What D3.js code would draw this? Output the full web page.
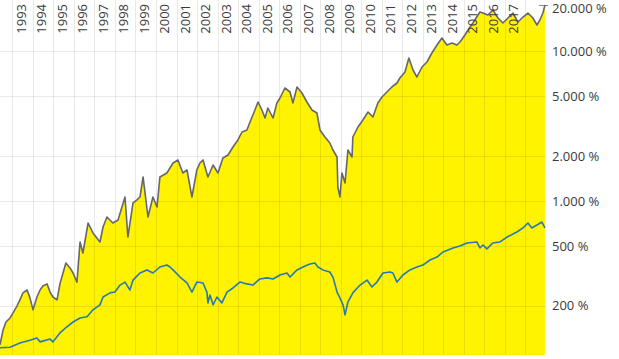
<!DOCTYPE html>
<html><head><meta charset="utf-8">
<script src="https://cdn.jsdelivr.net/npm/d3@7"></script>
<style>
html,body{margin:0;padding:0;background:#fff;}
svg{display:block;font-family:"Open Sans",sans-serif;}
</style></head><body>
<svg id="chart" width="619" height="359"></svg>
<script>
// Years shown on top axis
const yearLabels = [1993,1994,1995,1996,1997,1998,1999,2000,2001,2002,2003,2004,2005,2006,2007,2008,2009,2010,2011,2012,2013,2014,2015,2016,2017];
const gridYears = [1993,1994,1995,1996,1997,1998,1999,2000,2001,2002,2003,2004,2005,2006,2007,2008,2009,2010,2011,2012,2013,2014,2015,2016,2017,2018];
// Y axis tick values (%), and labels
const yTicks = [20000,10000,5000,2000,1000,500,200];
const yTickLabels = ["20.000 %","10.000 %","5.000 %","2.000 %","1.000 %","500 %","200 %"];

// Series 1 (grey line, yellow area): dates (decimal years) and values in %
const fundDates = [1992.40,1992.55,1992.69,1992.89,1993.03,1993.23,1993.37,1993.52,1993.72,1993.86,1994.01,1994.20,1994.35,1994.49,1994.69,1994.84,1994.98,1995.18,1995.32,1995.47,1995.61,1995.81,1995.96,1996.15,1996.30,1996.44,1996.69,1996.93,1997.27,1997.42,1997.61,1997.90,1998.15,1998.49,1998.63,1998.88,1999.07,1999.22,1999.37,1999.61,1999.85,2000.05,2000.19,2000.53,2000.83,2001.07,2001.31,2001.51,2001.75,2001.99,2002.14,2002.29,2002.53,2002.78,2003.02,2003.26,2003.51,2003.75,2003.99,2004.19,2004.43,2004.58,2004.82,2004.97,2005.16,2005.31,2005.45,2005.70,2005.89,2006.04,2006.28,2006.53,2006.67,2006.87,2007.11,2007.35,2007.60,2007.84,2007.99,2008.23,2008.47,2008.62,2008.82,2008.86,2008.96,2009.06,2009.21,2009.35,2009.55,2009.59,2009.84,2010.08,2010.33,2010.57,2010.81,2011.01,2011.25,2011.49,2011.74,2011.88,2012.13,2012.32,2012.52,2012.71,2012.96,2013.20,2013.44,2013.69,2013.93,2014.17,2014.42,2014.66,2014.81,2015.05,2015.20,2015.44,2015.78,2015.93,2016.17,2016.41,2016.66,2016.90,2017.15,2017.39,2017.63,2017.88,2018.12,2018.36,2018.56,2018.70,2018.85,2018.95];
const fundValues = [110,138,156,166,179,200,219,244,255,226,188,229,255,271,280,247,229,219,280,331,386,358,331,288,533,450,713,612,533,671,782,713,747,1063,575,970,1016,1063,1446,782,1063,912,1446,1537,1792,1877,1537,1610,1063,1610,1792,1877,1446,1738,1537,1935,2026,2290,2551,2884,2974,3363,4043,4571,4043,3575,4169,3575,4502,4861,5666,5329,4502,5754,5248,4571,4043,3861,2974,2671,2436,2187,1965,1240,1063,1537,1318,2187,1965,2671,3114,3468,3920,3631,4502,4936,5329,5754,6119,6607,7244,8981,7470,6709,7822,8446,9697,10960,12210,10960,11310,10960,11480,12780,13800,15370,18200,17920,17380,18770,16600,15370,16600,17920,15610,16850,17920,16600,14910,16100,17920,20260];

// Series 2 (blue line): dates (decimal years) and values in %
const benchDates = [1992.40,1992.89,1993.37,1993.86,1994.20,1994.35,1994.84,1994.98,1995.32,1995.66,1995.96,1996.30,1996.64,1996.93,1997.27,1997.42,1997.76,1998.00,1998.25,1998.49,1998.73,1998.88,1999.22,1999.56,1999.85,2000.19,2000.53,2000.68,2000.83,2001.17,2001.51,2001.75,2001.99,2002.29,2002.48,2002.53,2002.63,2002.78,2002.97,2003.21,2003.46,2003.75,2004.09,2004.43,2004.72,2005.06,2005.41,2005.70,2006.04,2006.38,2006.53,2006.87,2007.16,2007.50,2007.74,2007.89,2008.13,2008.47,2008.62,2008.82,2008.96,2009.11,2009.21,2009.35,2009.59,2009.94,2010.28,2010.52,2010.76,2011.06,2011.40,2011.54,2011.74,2012.03,2012.37,2012.71,2013.00,2013.35,2013.69,2013.98,2014.47,2014.81,2015.15,2015.63,2015.78,2015.93,2016.12,2016.41,2016.76,2017.10,2017.58,2017.88,2018.12,2018.31,2018.56,2018.80,2018.95];
const benchValues = [105,106,113,118,122,115,120,115,132,145,156,166,169,188,203,229,244,247,275,288,255,297,331,347,331,363,374,363,347,311,284,247,288,284,247,209,236,203,229,209,247,263,288,280,275,302,307,302,321,331,311,347,363,380,386,363,347,336,311,247,226,203,174,212,244,275,297,267,288,331,336,331,288,321,347,363,374,404,423,457,486,501,525,533,486,509,479,525,533,575,621,661,713,661,692,724,661];

const W = 619, H = 359;
const plot = {left: 0, right: 546, top: 0, bottom: 355};

const x = d3.scaleLinear().domain([1992.4, 2019.0]).range([plot.left, plot.right]);
const y = d3.scaleLog().domain([94, 21880]).range([plot.bottom, plot.top]);

const svg = d3.select("#chart");

const fund = fundDates.map((d, i) => ({t: d, v: fundValues[i]}));
const bench = benchDates.map((d, i) => ({t: d, v: benchValues[i]}));

// area fill
svg.append("path")
  .datum(fund)
  .attr("fill", "#fff300")
  .attr("d", d3.area().x(d => x(d.t)).y0(plot.bottom).y1(d => y(d.v)));

// grid lines
const grid = svg.append("g").attr("stroke", "rgba(0,0,0,0.085)").attr("stroke-width", 1);
grid.selectAll("line.v").data(gridYears).join("line")
  .attr("x1", d => Math.round(x(d)) + 0.5).attr("x2", d => Math.round(x(d)) + 0.5)
  .attr("y1", plot.top).attr("y2", plot.bottom);
grid.selectAll("line.h").data(yTicks.slice(1)).join("line")
  .attr("x1", plot.left).attr("x2", plot.right)
  .attr("y1", d => Math.round(y(d)) + 0.5).attr("y2", d => Math.round(y(d)) + 0.5);

// small tick at top value
svg.append("line")
  .attr("x1", plot.right - 7).attr("x2", plot.right + 2)
  .attr("y1", Math.round(y(yTicks[0])) - 0.5).attr("y2", Math.round(y(yTicks[0])) - 0.5)
  .attr("stroke", "#8a8a8a").attr("stroke-width", 1);

// lines
svg.append("path").datum(fund)
  .attr("fill", "none").attr("stroke", "#646670").attr("stroke-width", 1.6)
  .attr("stroke-linejoin", "round")
  .attr("d", d3.line().x(d => x(d.t)).y(d => y(d.v)));
svg.append("path").datum(bench)
  .attr("fill", "none").attr("stroke", "#2479b6").attr("stroke-width", 1.6)
  .attr("stroke-linejoin", "round")
  .attr("d", d3.line().x(d => x(d.t)).y(d => y(d.v)));

// year labels (top, rotated)
svg.append("g").selectAll("text").data(yearLabels).join("text")
  .attr("transform", d => `translate(${x(d + 0.42)},4) rotate(-90)`)
  .attr("text-anchor", "end")
  .attr("dy", "0.36em")
  .attr("font-size", 13)
  .attr("fill", "#3a3a3a")
  .text(d => d);

// right axis labels (top label nudged down so it stays inside the picture)
svg.append("g").selectAll("text").data(yTicks).join("text")
  .attr("x", 552)
  .attr("y", d => Math.max(y(d), 8))
  .attr("dy", "0.36em")
  .attr("font-size", 13)
  .attr("fill", "#3a3a3a")
  .text((d, i) => yTickLabels[i]);
</script>
</body></html>
